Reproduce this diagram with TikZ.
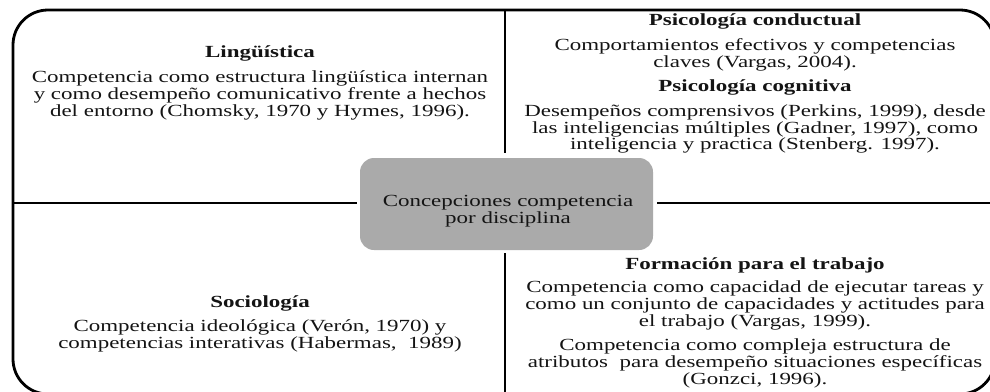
\documentclass[tikz,border=0pt]{standalone}
\usepackage{fontspec}
\setmainfont[FakeStretch=1.35]{Liberation Serif}
\definecolor{hubgray}{RGB}{170,170,170}
\definecolor{ink}{RGB}{20,20,20}
\begin{document}
\begin{tikzpicture}[x=1pt,y=-1pt,
  frame/.style={line width=2.8pt, rounded corners=35pt},
  divider/.style={line width=2.4pt},
  hline/.style={line width=2pt},
  title/.style={font=\bfseries\fontsize{17}{16.8}\selectfont, inner sep=0pt, text=ink},
  body/.style={font=\fontsize{17}{16.8}\selectfont, align=center, inner sep=0pt, text=ink},
  hubbox/.style={fill=hubgray, rounded corners=14pt, minimum width=293pt, minimum height=92pt, inner sep=0pt}]
\useasboundingbox (0,0) rectangle (990,391);
\clip (0,0) rectangle (990,391);
\draw[frame] (13,10) rectangle (995,394);
% hub
\node[hubbox] (hub) at (506.5,204) {};
\node[body] (hubtext) at (508,211) {Concepciones competencia\\por disciplina};
% dividers
\coordinate (vt) at (505,10);
\coordinate (vb) at (505,394);
\coordinate (hl) at (13,203);
\coordinate (hr) at (995,203);
\draw[divider, shorten >=5pt] (vt) -- (hub.north -| vt);
\draw[divider, shorten >=3pt] (vb) -- (hub.south -| vb);
\draw[hline, shorten >=3pt] (hl) -- (hub.west |- hl);
\draw[hline, shorten >=4pt] (hr) -- (hub.east |- hr);
% top-left
\node[title] (ling) at (260,53) {Lingüística};
\node[body] (lingtext) at (260,95.3) {Competencia como estructura lingüística internan\\y como desempeño comunicativo frente a hechos\\del entorno (Chomsky, 1970 y Hymes, 1996).};
% top-right
\node[title] (conduct) at (755,21.7) {Psicología conductual};
\node[body] (conducttext) at (755,55) {Comportamientos efectivos y competencias\\claves (Vargas, 2004).};
\node[title] (cogn) at (755,87) {Psicología cognitiva};
\node[body] (cogntext) at (755,129) {Desempeños comprensivos (Perkins, 1999), desde\\las inteligencias múltiples (Gadner, 1997), como\\inteligencia y practica (Stenberg. 1997).};
% bottom-left
\node[title] (socio) at (260,303) {Sociología};
\node[body] (sociotext) at (260,335.5) {Competencia ideológica (Verón, 1970) y\\competencias interativas (Habermas,\ \ 1989)};
% bottom-right
\node[title] (trab) at (755,265) {Formación para el trabajo};
\node[body] (trabtext) at (755,305.7) {Competencia como capacidad de ejecutar tareas y\\como un conjunto de capacidades y actitudes para\\el trabajo (Vargas, 1999).};
\node[body] (trabtext2) at (755,363.7) {Competencia como compleja estructura de\\atributos\ \ para desempeño situaciones específicas\\(Gonzci, 1996).};
\end{tikzpicture}
\end{document}
